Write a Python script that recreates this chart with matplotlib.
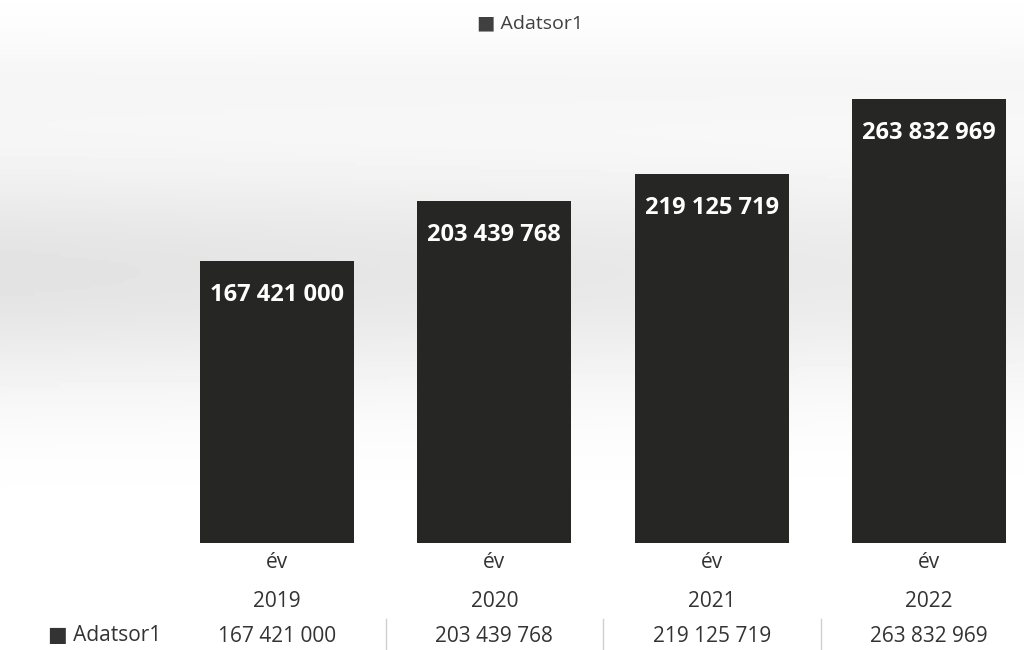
import numpy as np
import matplotlib.pyplot as plt

# data
years = ['2019', '2020', '2021', '2022']
values = [167421000, 203439768, 219125719, 263832969]
series_name = 'Adatsor1'

def fmt(v):
    return f'{v:,}'.replace(',', ' ')

plt.rcParams['font.family'] = ['Open Sans', 'DejaVu Sans']

fig = plt.figure(figsize=(10.24, 6.5), dpi=100)
fig.patch.set_facecolor('white')

# soft photo-like background
bg = fig.add_axes([0, 0, 1, 1], zorder=0)
yy = np.linspace(0, 1, 200)[:, None]
xx = np.linspace(0, 1, 300)[None, :]
band = np.exp(-((yy - 0.42) / 0.18) ** 2)
shade = 1 - 0.11 * band * (1 - 0.3 * xx) - 0.03 * np.exp(-((yy - 0.12) / 0.08) ** 2)
bg.imshow(shade, cmap='gray', vmin=0, vmax=1, aspect='auto', extent=[0, 1, 0, 1])
bg.set_xlim(0, 1)
bg.set_ylim(0, 1)
bg.axis('off')

left = 168 / 1024
width = 870 / 1024
bottom = (650 - 543) / 650
height = (543 - 38) / 650
ax = fig.add_axes([left, bottom, width, height], zorder=1)
ax.patch.set_alpha(0)

x = np.arange(len(years))
ax.bar(x, values, width=0.71, color='#262624')
ax.set_xlim(-0.5, 3.5)
ax.set_ylim(0, 300e6)
for s in ax.spines.values():
    s.set_visible(False)
ax.set_xticks([])
ax.set_yticks([])

for xi, v in zip(x, values):
    ax.annotate(fmt(v), (xi, v), xytext=(0, -24.5), textcoords='offset points',
                ha='center', va='center', color='white', fontsize=17, fontweight='bold')

# data table under the chart
for xi, yr, v in zip(x, years, values):
    ax.annotate('év', (xi, 0), xytext=(0, -14), textcoords='offset points',
                ha='center', va='center', color='#333333', fontsize=15)
    ax.annotate(yr, (xi, 0), xytext=(0, -42), textcoords='offset points',
                ha='center', va='center', color='#333333', fontsize=15)
    ax.annotate(fmt(v), (xi, 0), xytext=(0, -67.5), textcoords='offset points',
                ha='center', va='center', color='#333333', fontsize=15)
for xb in x + 0.5:
    ax.plot([xb, xb], [-45e6, -64e6], color='#d0d0d0', lw=1, clip_on=False)

fig.text(105 / 1024, 1 - 636 / 650, '■ ' + series_name, ha='center', va='center',
         color='#333333', fontsize=15)

# legend at the top
fig.text(530 / 1024, 1 - 23 / 650, '■ ' + series_name, ha='center', va='center',
         color='#404040', fontsize=14)

fig.savefig('out.png', dpi=100)
